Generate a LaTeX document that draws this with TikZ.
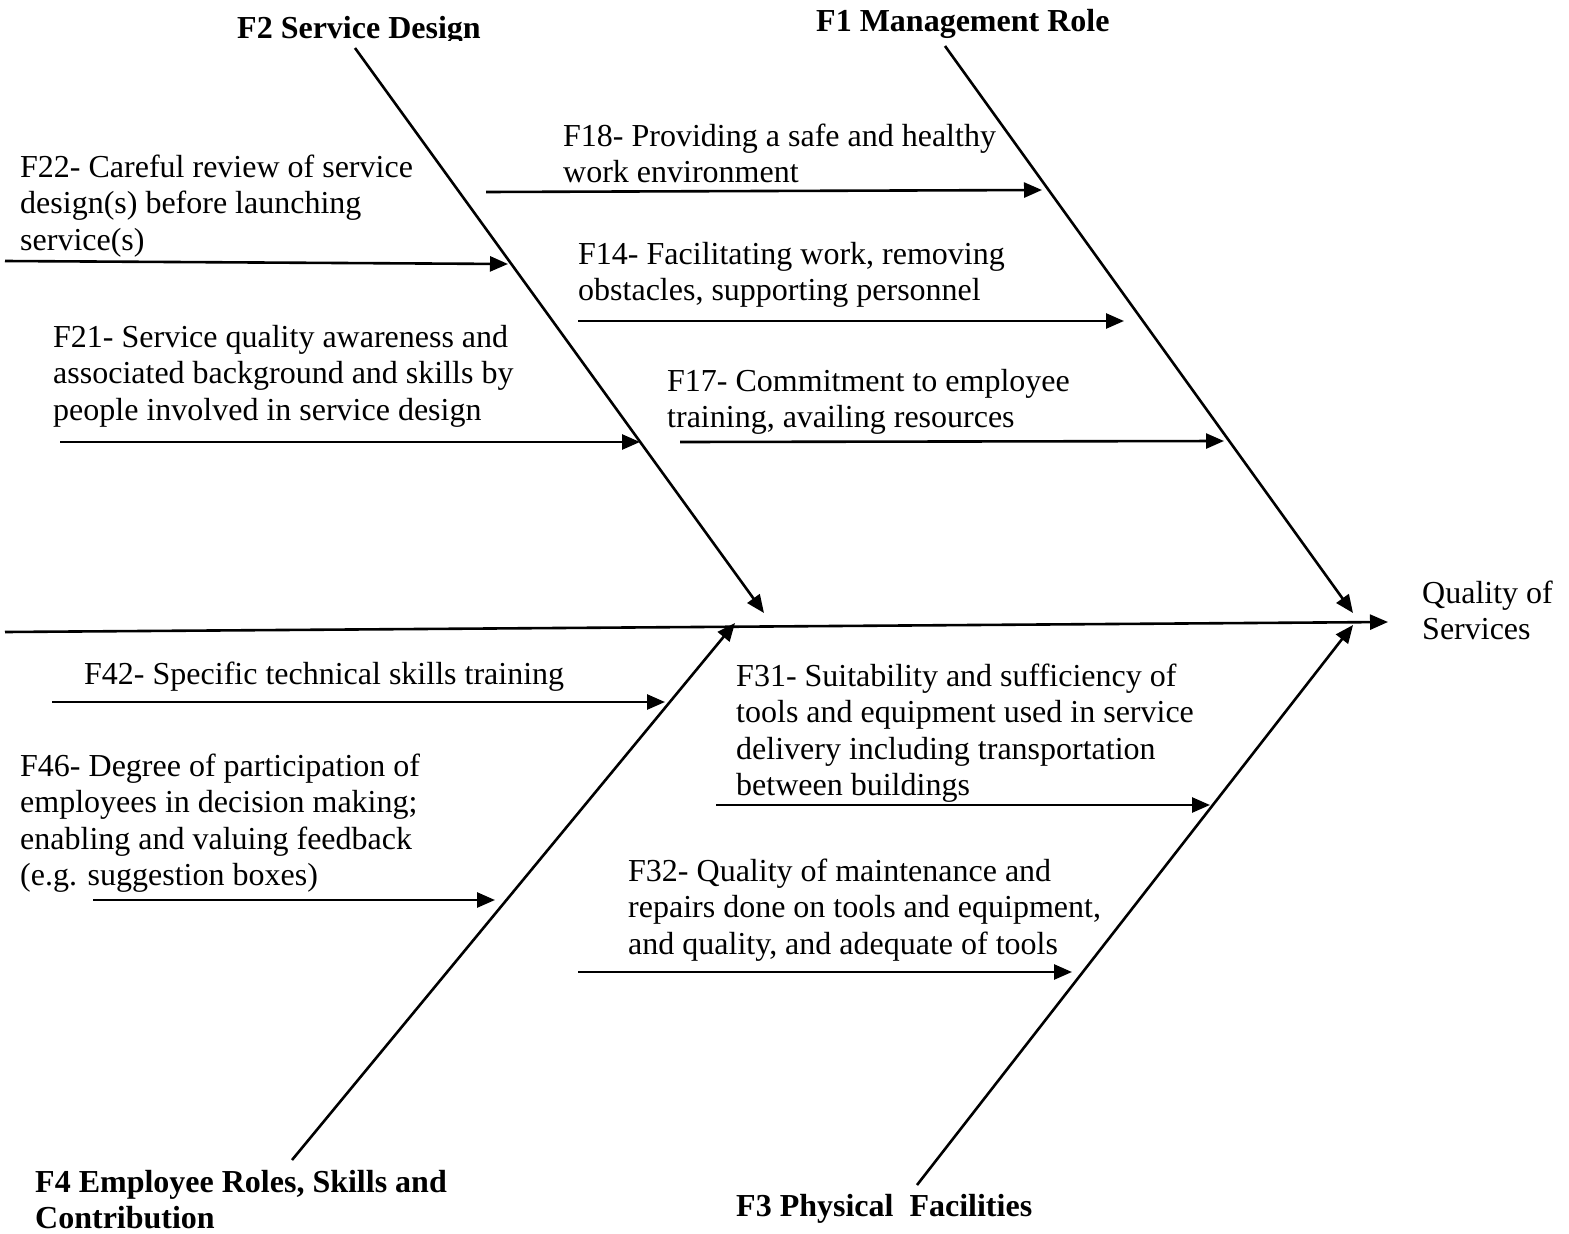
\documentclass[tikz,border=0pt]{standalone}
\usepackage{fontspec}
\setmainfont{Liberation Serif}
\usetikzlibrary{arrows.meta}
\begin{document}
\begin{tikzpicture}[x=1pt,y=-1pt,
  arr/.style={line width=2.6pt,-{Triangle[length=18pt,width=15pt]}},
  lbl/.style={anchor=base west,inner sep=0pt,font=\fontsize{32}{36.5}\selectfont},
  ttl/.style={anchor=base west,inner sep=0pt,font=\fontsize{32}{36.5}\selectfont\bfseries}]
\useasboundingbox (0,0) rectangle (1569,1234);

% spine and main bones
\coordinate (spineL) at (5,632);
\coordinate (head) at (1388,622);
\coordinate (f1top) at (945,46);
\coordinate (f1tip) at (1353,613);
\coordinate (f2top) at (355,48);
\coordinate (f2tip) at (764,613);
\coordinate (f4bot) at (292,1160);
\coordinate (f4tip) at (735,623);
\coordinate (f3bot) at (917,1185);
\coordinate (f3tip) at (1353,625);

\draw[arr] (spineL) -- (head);
\draw[arr] (f1top) -- (f1tip);
\draw[arr] (f2top) -- (f2tip);
\draw[arr] (f4bot) -- (f4tip);
\draw[arr] (f3bot) -- (f3tip);

% effect
\node[lbl] (effect) at (1422,603) {\begin{tabular}[t]{@{}l@{}}Quality of\\Services\end{tabular}};

% category titles
\begin{scope}
\clip (0,0) rectangle (1569,40);
\node[ttl] (t2) at (237,38) {F2 Service Design};
\end{scope}
\node[ttl] (t1) at (816,31) {F1 Management Role};
\node[ttl] (t4) at (35,1192) {\begin{tabular}[t]{@{}l@{}}F4 Employee Roles, Skills and\\Contribution\end{tabular}};
\node[ttl] (t3) at (736,1216) {F3 Physical\ \ Facilities};

% causes: management role
\node[lbl] (f18) at (563,146) {\begin{tabular}[t]{@{}l@{}}F18- Providing a safe and healthy\\work environment\end{tabular}};
\coordinate (a18s) at (486,192); \coordinate (a18e) at (1042,190);
\draw[arr] (a18s) -- (a18e);
\node[lbl] (f14) at (578,264) {\begin{tabular}[t]{@{}l@{}}F14- Facilitating work, removing\\obstacles, supporting personnel\end{tabular}};
\coordinate (a14s) at (578,321); \coordinate (a14e) at (1124,321);
\draw[arr] (a14s) -- (a14e);
\node[lbl] (f17) at (667,391) {\begin{tabular}[t]{@{}l@{}}F17- Commitment to employee\\training, availing resources\end{tabular}};
\coordinate (a17s) at (680,442); \coordinate (a17e) at (1224,441);
\draw[arr] (a17s) -- (a17e);

% causes: service design
\node[lbl] (f22) at (20,177) {\begin{tabular}[t]{@{}l@{}}F22- Careful review of service\\design(s) before launching\\service(s)\end{tabular}};
\coordinate (a22s) at (5,261); \coordinate (a22e) at (508,264);
\draw[arr] (a22s) -- (a22e);
\node[lbl] (f21) at (53,347) {\begin{tabular}[t]{@{}l@{}}F21- Service quality awareness and\\associated background and skills by\\people involved in service design\end{tabular}};
\coordinate (a21s) at (60,442); \coordinate (a21e) at (640,442);
\draw[arr] (a21s) -- (a21e);

% causes: employee roles
\node[lbl] (f42) at (84,684) {F42- Specific technical skills training};
\coordinate (a42s) at (52,702); \coordinate (a42e) at (665,702);
\draw[arr] (a42s) -- (a42e);
\node[lbl] (f46) at (20,776) {\begin{tabular}[t]{@{}l@{}}F46- Degree of participation of\\employees in decision making;\\enabling and valuing feedback\\(e.g. suggestion boxes)\end{tabular}};
\coordinate (a46s) at (93,900); \coordinate (a46e) at (495,900);
\draw[arr] (a46s) -- (a46e);

% causes: physical facilities
\node[lbl] (f31) at (736,686) {\begin{tabular}[t]{@{}l@{}}F31- Suitability and sufficiency of\\tools and equipment used in service\\delivery including transportation\\between buildings\end{tabular}};
\coordinate (a31s) at (716,805); \coordinate (a31e) at (1210,805);
\draw[arr] (a31s) -- (a31e);
\node[lbl] (f32) at (628,881) {\begin{tabular}[t]{@{}l@{}}F32- Quality of maintenance and\\repairs done on tools and equipment,\\and quality, and adequate of tools\end{tabular}};
\coordinate (a32s) at (578,972); \coordinate (a32e) at (1072,972);
\draw[arr] (a32s) -- (a32e);
\end{tikzpicture}
\end{document}
